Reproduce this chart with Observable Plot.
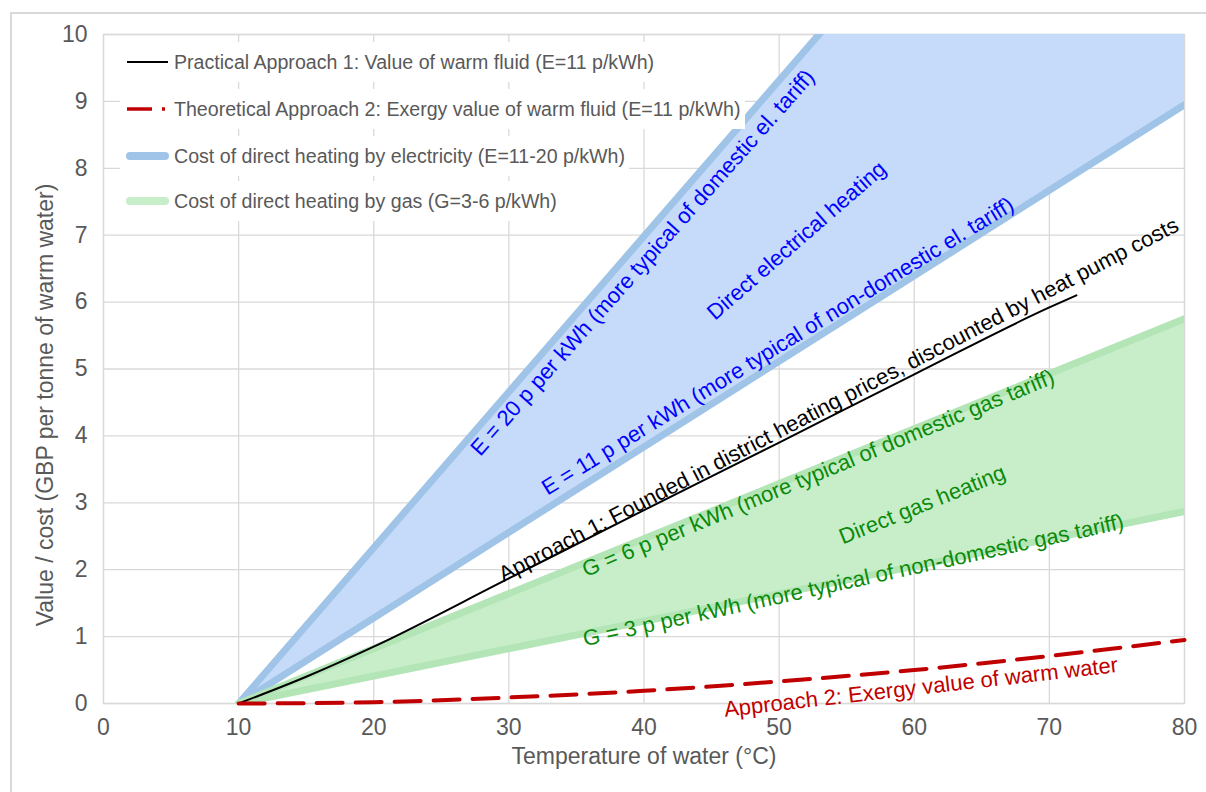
<!DOCTYPE html>
<html><head><meta charset="utf-8">
<script src="https://cdn.jsdelivr.net/npm/d3@7"></script>
<script src="https://cdn.jsdelivr.net/npm/@observablehq/plot@0.6"></script>
<style>
body{margin:0;background:#fff;font-family:"Liberation Sans",Arial,sans-serif;}
#wrap{position:relative;width:1206px;height:792px;overflow:hidden;}
#border{position:absolute;left:10px;top:12px;width:1300px;height:900px;border:2px solid #d9d9d9;box-sizing:border-box;}
#chart{position:absolute;left:0;top:0;}
.row{position:absolute;left:120px;height:40px;background:#fff;display:flex;align-items:center;padding-right:4px;font-size:19.6px;color:#595959;white-space:nowrap}
.row svg{width:54px;height:40px;flex:none}
</style></head>
<body>
<div id="wrap"><div id="border"></div><div id="chart"></div><div id="legend"></div></div>
<script>
// ---- data ----
const xTicks = [0, 10, 20, 30, 40, 50, 60, 70, 80];
const yTicks = [0, 1, 2, 3, 4, 5, 6, 7, 8, 9, 10];

// direct electric heating band (E = 11 .. 20 p/kWh)
const elecT = [10, 80];
const elecLow = [0, 8.95];   // E = 11 p/kWh
const elecHigh = [0, 16.3];  // E = 20 p/kWh (runs off the top at ~53 °C)

// direct gas heating band (G = 3 .. 6 p/kWh)
const gasT = [10, 80];
const gasLow = [0, 2.87];    // G = 3 p/kWh
const gasHigh = [0, 5.75];   // G = 6 p/kWh

// Approach 1: practical value of warm fluid
const app1T = [10, 15, 20, 30, 40, 50, 60, 70, 72];
const app1V = [0, 0.4, 0.85, 1.87, 2.89, 3.9, 4.92, 5.92, 6.1];

// Approach 2: exergy value of warm fluid
const app2T = [10, 20, 30, 40, 50, 60, 70, 80];
const app2V = [0, 0.02, 0.09, 0.19, 0.33, 0.5, 0.71, 0.95];

const legendLabels = [
  "Practical Approach 1: Value of warm fluid (E=11 p/kWh)",
  "Theoretical Approach 2: Exergy value of warm fluid (E=11 p/kWh)",
  "Cost of direct heating by electricity (E=11-20 p/kWh)",
  "Cost of direct heating by gas (G=3-6 p/kWh)"
];

const notes = [
  {text: "E = 20 p per kWh (more typical of domestic el. tariff)", x: 39.9, y: 6.59, angle: -48.5, kind: "elec"},
  {text: "Direct electrical heating", x: 51.3, y: 6.92, angle: -41, kind: "elec"},
  {text: "E = 11 p per kWh (more typical of non-domestic el. tariff)", x: 49.9, y: 5.34, angle: -31.5, kind: "elec"},
  {text: "Approach 1: Founded in district heating prices, discounted by heat pump costs", x: 54.4, y: 4.54, angle: -27.5, kind: "app1"},
  {text: "G = 6 p per kWh (more typical of domestic gas tariff)", x: 52.9, y: 3.44, angle: -22.5, kind: "gas"},
  {text: "Direct gas heating", x: 60.6, y: 2.97, angle: -22, kind: "gas"},
  {text: "G = 3 p per kWh (more typical of non-domestic gas tariff)", x: 55.5, y: 1.84, angle: -12.3, kind: "gas"},
  {text: "Approach 2: Exergy value of warm water", x: 60.5, y: 0.24, angle: -6.5, kind: "app2"}
];

// ---- styles ----
const C = {
  elecFill: "#c6dbf9", elecEdge: "#9fc4e7",
  gasFill: "#c7eec9", gasEdge: "#b3e5b7",
  app1: "#000000", app2: "#c00000",
  grid: "#d9d9d9", text: "#595959"
};
const noteColor = {elec: "#0000ff", gas: "#0a8a0a", app1: "#000000", app2: "#c00000"};

const elec = elecT.map((t, i) => ({t, lo: elecLow[i], hi: elecHigh[i]}));
const gas = gasT.map((t, i) => ({t, lo: gasLow[i], hi: gasHigh[i]}));
const app1 = app1T.map((t, i) => ({t, v: app1V[i]}));
const app2 = app2T.map((t, i) => ({t, v: app2V[i]}));

const chart = Plot.plot({
  width: 1206, height: 792,
  marginLeft: 103, marginRight: 22, marginTop: 34, marginBottom: 89,
  style: {fontFamily: '"Liberation Sans", Arial, sans-serif', fontSize: "23px", color: C.text, background: "transparent", overflow: "visible"},
  x: {domain: [0, 80]},
  y: {domain: [0, 10]},
  marks: [
    Plot.gridX(xTicks, {stroke: C.grid, strokeOpacity: 1, strokeWidth: 1.3}),
    Plot.gridY(yTicks, {stroke: C.grid, strokeOpacity: 1, strokeWidth: 1.3}),
    Plot.frame({stroke: C.grid, strokeWidth: 1.3}),
    Plot.areaY(elec, {x: "t", y1: "lo", y2: "hi", fill: C.elecFill, clip: true}),
    Plot.line(elec, {x: "t", y: "lo", stroke: C.elecEdge, strokeWidth: 7, clip: true}),
    Plot.line(elec, {x: "t", y: "hi", stroke: C.elecEdge, strokeWidth: 7, clip: true}),
    Plot.areaY(gas, {x: "t", y1: "lo", y2: "hi", fill: C.gasFill, clip: true}),
    Plot.line(gas, {x: "t", y: "lo", stroke: C.gasEdge, strokeWidth: 7, clip: true}),
    Plot.line(gas, {x: "t", y: "hi", stroke: C.gasEdge, strokeWidth: 7, clip: true}),
    Plot.line(app1, {x: "t", y: "v", stroke: C.app1, strokeWidth: 2, curve: "monotone-x"}),
    Plot.line(app2, {x: "t", y: "v", stroke: C.app2, strokeWidth: 4, strokeDasharray: "26,13", curve: "natural"}),
    Plot.axisX(xTicks, {tickSize: 0, tickPadding: 15, fontSize: 23, fill: C.text, label: null, tickFormat: d => String(d)}),
    Plot.axisY(yTicks, {tickSize: 0, tickPadding: 16, fontSize: 23, fill: C.text, label: null, tickFormat: d => String(d)}),
    Plot.text(["Temperature of water (°C)"], {frameAnchor: "bottom", dy: 60, fontSize: 23, fill: C.text}),
    Plot.text(["Value / cost (GBP per tonne of warm water)"], {frameAnchor: "left", textAnchor: "middle", dx: -58, dy: 36, rotate: -90, fontSize: 23, fill: C.text}),
    Plot.text(notes, {x: "x", y: "y", text: "text", rotate: "angle", fill: d => noteColor[d.kind], fontSize: 22, textAnchor: "middle", lineAnchor: "middle"})
  ]
});
document.getElementById("chart").appendChild(chart);

// ---- legend (HTML overlay) ----
const rowY = [62, 109, 156, 201];
const samples = [
  '<line x1="7" y1="20" x2="48" y2="20" stroke="#000" stroke-width="2"/>',
  '<line x1="7" y1="20" x2="32" y2="20" stroke="#c00000" stroke-width="3.5"/><line x1="42" y1="20" x2="45" y2="20" stroke="#c00000" stroke-width="3.5"/>',
  '<line x1="10" y1="20" x2="45" y2="20" stroke="#9fc4e7" stroke-width="8" stroke-linecap="round"/>',
  '<line x1="10" y1="20" x2="45" y2="20" stroke="#c7eec9" stroke-width="8" stroke-linecap="round"/>'
];
const leg = document.getElementById("legend");
legendLabels.forEach((lab, i) => {
  const r = document.createElement("div");
  r.className = "row";
  r.style.top = (rowY[i] - 20) + "px";
  r.innerHTML = '<svg viewBox="0 0 54 40">' + samples[i] + '</svg><span>' + lab + '</span>';
  leg.appendChild(r);
});
</script>
</body></html>
